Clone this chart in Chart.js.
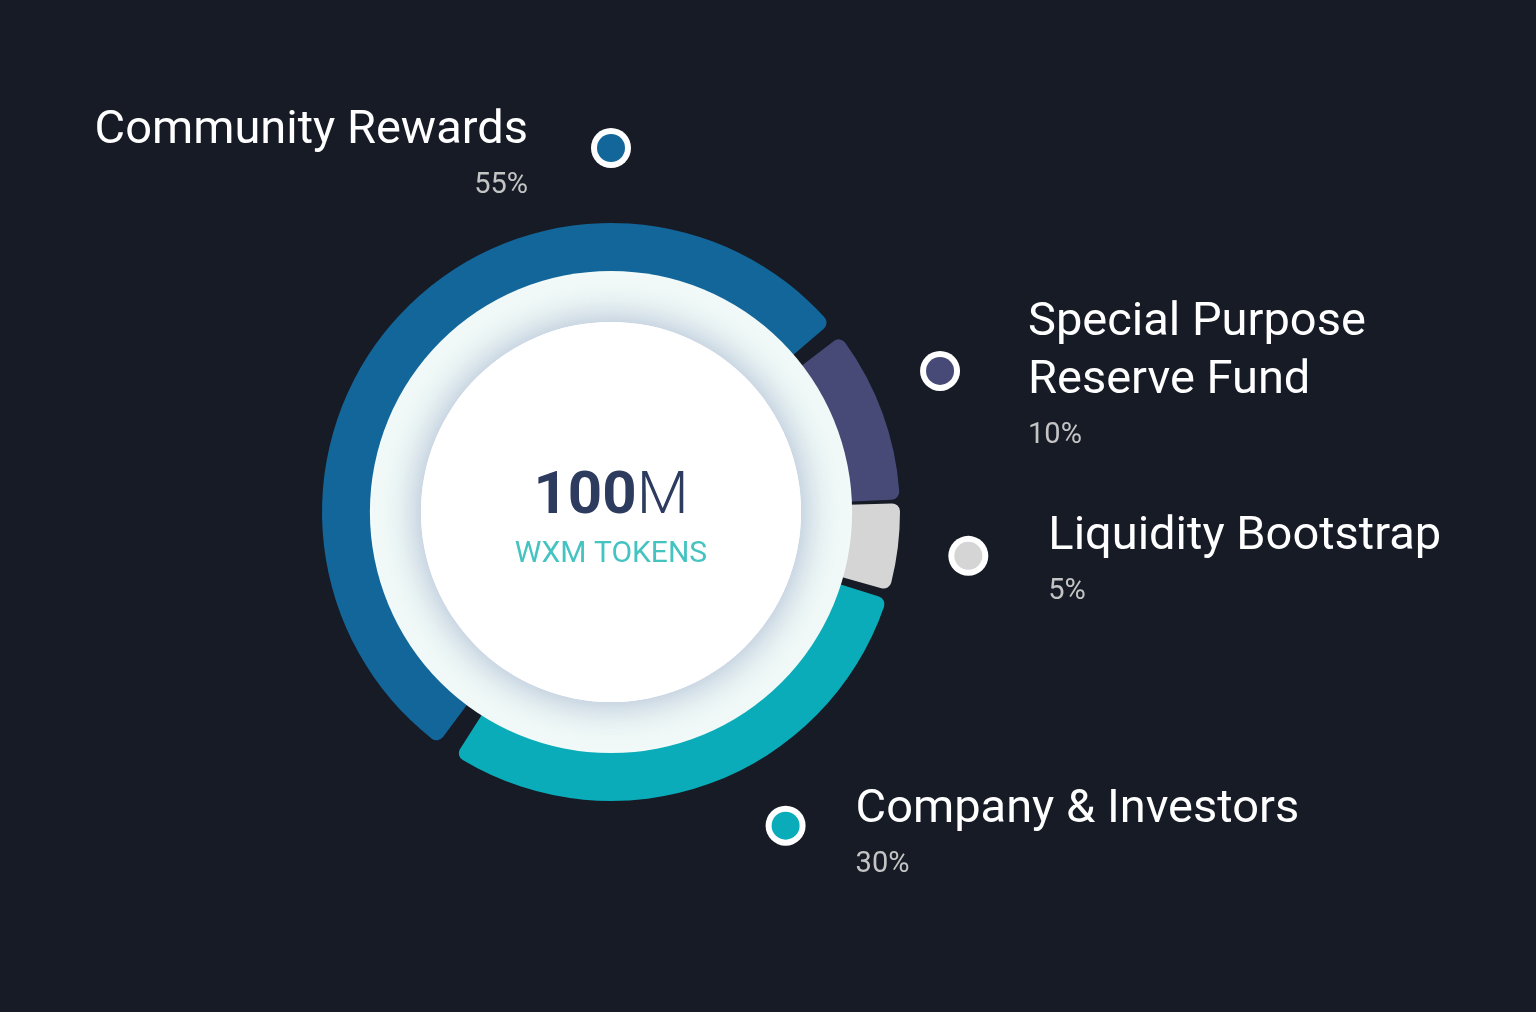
<!DOCTYPE html>
<html>
<head>
<meta charset="utf-8">
<script src="https://cdn.jsdelivr.net/npm/chart.js@4"></script>
<style>
  html, body { margin: 0; padding: 0; background: #161b26; }
  #wrap { width: 1536px; height: 1012px; }
</style>
</head>
<body>
<div id="wrap"><canvas id="c" width="1536" height="1012"></canvas></div>
<script>
// ---- data ----
const categories = ["Community Rewards", "Special Purpose Reserve Fund", "Liquidity Bootstrap", "Company & Investors"];
const labelLines = [["Community Rewards"], ["Special Purpose", "Reserve Fund"], ["Liquidity Bootstrap"], ["Company & Investors"]];
const shares = [55, 10, 5, 30];
const percentLabels = ["55%", "10%", "5%", "30%"];
const totalLabelBold = "100";
const totalLabelUnit = "M";
const totalCaption = "WXM TOKENS";

// ---- styles / layout ----
const colors = ["#12669a", "#474a76", "#d6d5d5", "#0aacb9"];
const FONT = "Roboto, 'Noto Sans', sans-serif";
// marker angle (deg, clockwise from top) and distance from centre; text anchor relative to marker
const labelLayout = [
  { ang: 0,    dist: 364, tx: -83, ty: -5,  align: "right" },
  { ang: 66.8, dist: 358, tx: 88,  ty: -36, align: "left" },
  { ang: 97,   dist: 360, tx: 80,  ty: -7,  align: "left" },
  { ang: 150.9,dist: 359, tx: 70,  ty: -4,  align: "left" }
];

const decorPlugin = {
  id: "decor",
  afterDatasetsDraw(chart) {
    const ctx = chart.ctx;
    const arc = chart.getDatasetMeta(0).data[0];
    const cx = arc.x, cy = arc.y, R = arc.outerRadius;
    const rLight = R * 0.855, rDisc = R * 0.674;
    ctx.save();
    // light ring
    ctx.beginPath(); ctx.arc(cx, cy, rLight, 0, Math.PI * 2);
    ctx.fillStyle = "#f1faf8"; ctx.fill();
    // soft shadow around white disc
    ctx.save();
    ctx.shadowColor = "rgba(110,130,175,0.6)";
    ctx.shadowBlur = 40;
    ctx.beginPath(); ctx.arc(cx, cy, rDisc, 0, Math.PI * 2);
    ctx.fillStyle = "#ffffff"; ctx.fill();
    ctx.restore();
    ctx.beginPath(); ctx.arc(cx, cy, rDisc, 0, Math.PI * 2);
    ctx.fillStyle = "#ffffff"; ctx.fill();

    // centre text
    ctx.textBaseline = "alphabetic";
    const cfs = 60;
    ctx.font = "700 " + cfs + "px " + FONT;
    const wB = ctx.measureText(totalLabelBold).width;
    ctx.font = "300 " + cfs + "px " + FONT;
    const wU = ctx.measureText(totalLabelUnit).width;
    const x0 = cx - (wB + wU) / 2;
    ctx.fillStyle = "#2c3b5e";
    ctx.textAlign = "left";
    ctx.font = "700 " + cfs + "px " + FONT;
    ctx.fillText(totalLabelBold, x0, cy + 1);
    ctx.font = "300 " + cfs + "px " + FONT;
    ctx.fillText(totalLabelUnit, x0 + wB, cy + 1);
    ctx.font = "400 30px " + FONT;
    ctx.textAlign = "center";
    ctx.fillStyle = "#45c3c1";
    ctx.fillText(totalCaption, cx, cy + 50);

    // markers + labels
    labelLayout.forEach((L, i) => {
      const a = L.ang * Math.PI / 180;
      const mx = cx + L.dist * Math.sin(a), my = cy - L.dist * Math.cos(a);
      ctx.beginPath(); ctx.arc(mx, my, 20, 0, Math.PI * 2);
      ctx.fillStyle = "#ffffff"; ctx.fill();
      ctx.beginPath(); ctx.arc(mx, my, 14, 0, Math.PI * 2);
      ctx.fillStyle = colors[i]; ctx.fill();

      ctx.textAlign = L.align;
      const tx = mx + L.tx;
      let ty = my + L.ty;
      ctx.font = "400 47px " + FONT;
      ctx.fillStyle = "#ffffff";
      labelLines[i].forEach((line, k) => {
        ctx.fillText(line, tx, ty + k * 58);
      });
      ty += (labelLines[i].length - 1) * 58;
      ctx.font = "400 29px " + FONT;
      ctx.fillStyle = "#c4c4c4";
      ctx.fillText(percentLabels[i], tx, ty + 50);
    });
    ctx.restore();
  }
};

new Chart(document.getElementById("c"), {
  type: "doughnut",
  data: {
    labels: categories,
    datasets: [{
      data: shares,
      backgroundColor: colors,
      borderWidth: 0,
      borderRadius: 8,
      spacing: 14,
      hoverOffset: 0
    }]
  },
  options: {
    responsive: false,
    animation: false,
    devicePixelRatio: 1,
    rotation: 214,
    cutout: "76%",
    layout: { padding: { left: 322, right: 636, top: 223, bottom: 211 } },
    plugins: { legend: { display: false }, tooltip: { enabled: false } }
  },
  plugins: [decorPlugin]
});
</script>
</body>
</html>
